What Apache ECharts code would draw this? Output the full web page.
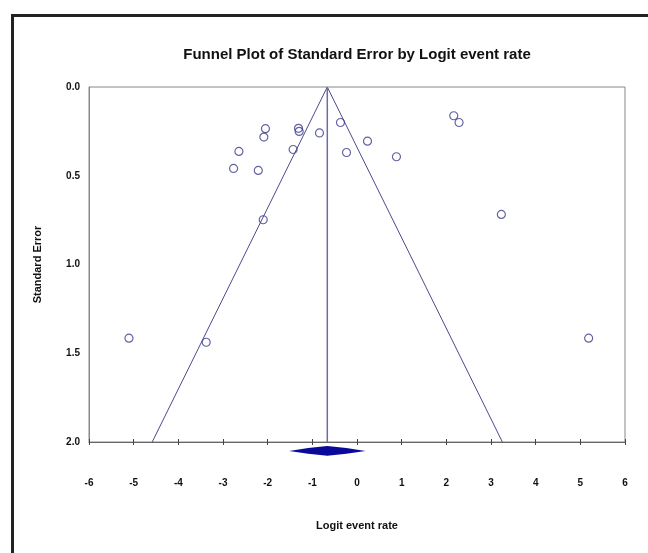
<!DOCTYPE html>
<html>
<head>
<meta charset="utf-8">
<script src="https://cdn.jsdelivr.net/npm/echarts@6/dist/echarts.min.js"></script>
<style>
html,body{margin:0;padding:0;background:#fff;}
#c{width:648px;height:553px;}
</style>
</head>
<body>
<div id="c"></div>
<script>
// Study points: logit event rate (x) and standard error (y)
var studyLogit = [-2.05, -2.085, -1.31, -1.295, -0.84, -0.37, -0.235, -2.644, -1.43, -2.763, -2.21, -2.1, 2.166, 2.285, 0.235, 0.883, 3.232, -5.105, -3.376, 5.186];
var studySE    = [0.235, 0.282, 0.233, 0.25, 0.259, 0.2, 0.369, 0.363, 0.352, 0.459, 0.47, 0.748, 0.162, 0.2, 0.305, 0.393, 0.718, 1.415, 1.438, 1.415];
// Summary estimate and funnel
var pooledLogit = -0.665;
var pooledLow = -1.52;
var pooledHigh = 0.19;
var diamondSE = 2.05;
var diamondHalf = 0.028;
var funnelX = [-4.585, -0.665, 3.255];
var funnelY = [2.0, 0.0, 2.0];
var xTicks = [-6, -5, -4, -3, -2, -1, 0, 1, 2, 3, 4, 5, 6];
var yTicks = [0.0, 0.5, 1.0, 1.5, 2.0];

var points = studyLogit.map(function (x, i) { return [x, studySE[i]]; });
var funnel = funnelX.map(function (x, i) { return [x, funnelY[i]]; });

var chart = echarts.init(document.getElementById('c'), null, {renderer: 'canvas'});
var labelFont = {fontFamily: 'Liberation Sans', fontWeight: 'bold', fontSize: 10, color: '#111'};

chart.setOption({
  backgroundColor: '#fff',
  animation: false,
  title: {
    text: 'Funnel Plot of Standard Error by Logit event rate',
    left: 352, top: 42, textAlign: 'center',
    textStyle: {fontFamily: 'Liberation Sans', fontWeight: 'bold', fontSize: 15, color: '#111'}
  },
  graphic: [{
    type: 'rect', left: 10, top: 13, silent: true,
    shape: {width: 700, height: 600},
    style: {fill: null, stroke: '#222', lineWidth: 3}
  }],
  grid: {left: 89, right: 23, top: 87, bottom: 111, show: true, borderColor: '#888', borderWidth: 1},
  xAxis: [{
    type: 'value', min: -6, max: 6, interval: 1, position: 'bottom',
    name: 'Logit event rate', nameLocation: 'middle', nameGap: 78,
    nameTextStyle: {fontFamily: 'Liberation Sans', fontWeight: 'bold', fontSize: 11, color: '#111'},
    axisLine: {onZero: false, lineStyle: {color: '#666'}},
    axisTick: {show: true, length: 3, lineStyle: {color: '#444'}},
    axisLabel: Object.assign({margin: 36, formatter: function (v) { return xTicks.indexOf(v) >= 0 ? String(v) : ''; }}, labelFont),
    splitLine: {show: false}
  }, {
    type: 'value', min: -6, max: 6, interval: 1, position: 'bottom',
    axisLine: {show: false, onZero: false},
    axisTick: {show: true, inside: true, length: 3, lineStyle: {color: '#444'}},
    axisLabel: {show: false}, splitLine: {show: false}
  }],
  yAxis: {
    type: 'value', min: 0, max: 2, interval: 0.5, inverse: true,
    name: 'Standard Error', nameLocation: 'middle', nameGap: 46, nameRotate: 90,
    nameTextStyle: {fontFamily: 'Liberation Sans', fontWeight: 'bold', fontSize: 11, color: '#111'},
    axisLine: {show: true, onZero: false, lineStyle: {color: '#888'}},
    axisTick: {show: false},
    axisLabel: Object.assign({margin: 9, formatter: function (v) { return yTicks.indexOf(v) >= 0 ? v.toFixed(1) : ''; }}, labelFont),
    splitLine: {show: false}
  },
  series: [{
    type: 'line', data: funnel, symbol: 'none', silent: true,
    lineStyle: {color: '#4a4a90', width: 1}, z: 2
  }, {
    type: 'line', data: [[pooledLogit, 0], [pooledLogit, 2]], symbol: 'none', silent: true,
    lineStyle: {color: '#6c6caa', width: 1.5}, z: 2
  }, {
    type: 'scatter', data: points, symbol: 'circle', symbolSize: 8,
    itemStyle: {color: 'rgba(255,255,255,0)', borderColor: '#3c3c8c', borderWidth: 1.2}, z: 3
  }, {
    type: 'custom', clip: false, z: 4,
    data: [[pooledLow, pooledLogit, pooledHigh, diamondSE, diamondHalf]],
    renderItem: function (params, api) {
      var lo = api.value(0), mid = api.value(1), hi = api.value(2), y = api.value(3), h = api.value(4);
      var pts = [
        api.coord([lo, y]),
        api.coord([(lo + mid) / 2, y - h * 0.6]),
        api.coord([mid, y - h]),
        api.coord([(mid + hi) / 2, y - h * 0.6]),
        api.coord([hi, y]),
        api.coord([(mid + hi) / 2, y + h * 0.6]),
        api.coord([mid, y + h]),
        api.coord([(lo + mid) / 2, y + h * 0.6])
      ];
      return {type: 'polygon', shape: {points: pts}, style: {fill: '#0a0a9a', stroke: null}};
    }
  }]
});
</script>
</body>
</html>
